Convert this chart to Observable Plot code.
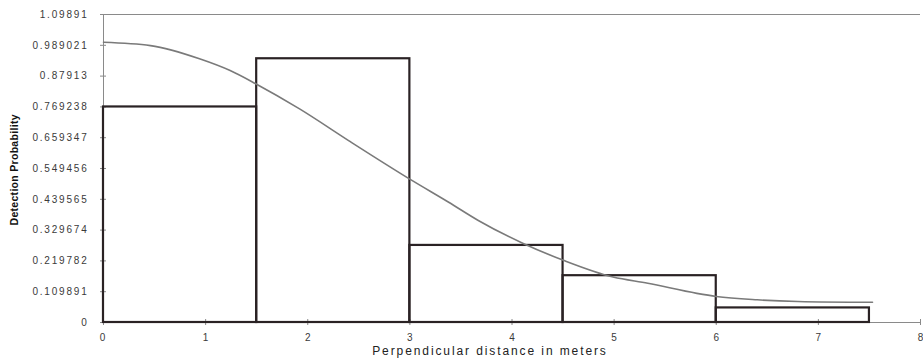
<!DOCTYPE html>
<html>
<head>
<meta charset="utf-8">
<script src="https://cdn.jsdelivr.net/npm/d3@7"></script>
<script src="https://cdn.jsdelivr.net/npm/@observablehq/plot@0.6"></script>
<style>
  html, body { margin: 0; padding: 0; background: #fff; }
  #chart svg { display: block; }
</style>
</head>
<body>
<div id="chart"></div>
<script>
// Histogram bins (perpendicular distance, m) and observed detection proportions
const binStart = [0, 1.5, 3, 4.5, 6];
const binEnd   = [1.5, 3, 4.5, 6, 7.5];
const binValue = [0.769, 0.941, 0.275, 0.167, 0.052];

// Fitted detection function
const curveX = [0, 0.46, 0.94, 1.24, 1.49, 1.92, 2.40, 3.02, 3.38, 3.67, 4.11, 4.51, 4.99, 5.33, 5.81, 6.00, 6.40, 6.80, 7.53];
const curveP = [1.000, 0.988, 0.941, 0.899, 0.852, 0.762, 0.649, 0.507, 0.429, 0.364, 0.282, 0.221, 0.162, 0.140, 0.104, 0.093, 0.081, 0.075, 0.072];

// Axis ticks
const yTickLabels = ["0", "0.109891", "0.219782", "0.329674", "0.439565", "0.549456", "0.659347", "0.769238", "0.87913", "0.989021", "1.09891"];
const yTickValues = yTickLabels.map(Number);
const xTickValues = [0, 1, 2, 3, 4, 5, 6, 7, 8];

const xLabel = "Perpendicular distance in meters";
const yLabel = "Detection Probability";

const bars = binStart.map((s, i) => ({x1: s, x2: binEnd[i], y: binValue[i]}));
const curve = curveX.map((x, i) => ({x, p: curveP[i]}));

const yMax = yTickValues[yTickValues.length - 1];

const chart = Plot.plot({
  width: 923,
  height: 362,
  marginLeft: 103,
  marginRight: 3,
  marginTop: 14,
  marginBottom: 40,
  style: {fontFamily: "'Liberation Sans', Arial, sans-serif", background: "#fff"},
  x: {domain: [0, 8]},
  y: {domain: [0, yMax]},
  marks: [
    // frame lines
    Plot.ruleY([yMax], {stroke: "#8a8a8a", strokeWidth: 1}),
    Plot.ruleY([0], {stroke: "#8a8a8a", strokeWidth: 1}),
    Plot.ruleX([0], {stroke: "#8a8a8a", strokeWidth: 1}),
    // y axis: labels and crossing ticks
    Plot.axisY({ticks: yTickValues, tickSize: 0, tickPadding: 15, fontSize: 10, fill: "#3a3a3a",
      tickFormat: (d, i) => yTickLabels[i], label: null}),
    Plot.axisY({ticks: yTickValues, tickSize: 6, dx: 3, stroke: "#8a8a8a", tickFormat: () => "", label: null}),
    // x axis: labels and crossing ticks
    Plot.axisX({ticks: xTickValues, tickSize: 0, tickPadding: 11, fontSize: 10, fill: "#3a3a3a",
      tickFormat: d => String(d), label: null}),
    Plot.axisX({ticks: xTickValues, tickSize: 6, dy: -3, stroke: "#8a8a8a", tickFormat: () => "", label: null}),
    // histogram outlines
    Plot.rectY(bars, {x1: "x1", x2: "x2", y: "y", fill: "none", stroke: "#2a2224", strokeWidth: 2.2}),
    // fitted curve
    Plot.line(curve, {x: "x", y: "p", curve: "monotone-x", stroke: "#7a7a7a", strokeWidth: 1.6}),
    // axis titles
    Plot.text([xLabel], {frameAnchor: "bottom", dx: -22, dy: 32, fontSize: 12, fill: "#222"}),
    Plot.text([yLabel], {frameAnchor: "left", dx: -89, dy: 57, rotate: -90, fontSize: 10.5, fill: "#111",
      fontWeight: "bold"})
  ]
});

document.getElementById("chart").appendChild(chart);

// letter spacing tweaks (select by content)
d3.select(chart).selectAll("text").each(function() {
  const t = this.textContent;
  if (t === xLabel) this.style.letterSpacing = "1.9px";
  else if (t === yLabel) this.style.letterSpacing = "0.3px";
  else if (yTickLabels.includes(t)) this.style.letterSpacing = "1.8px";
});
</script>
</body>
</html>
